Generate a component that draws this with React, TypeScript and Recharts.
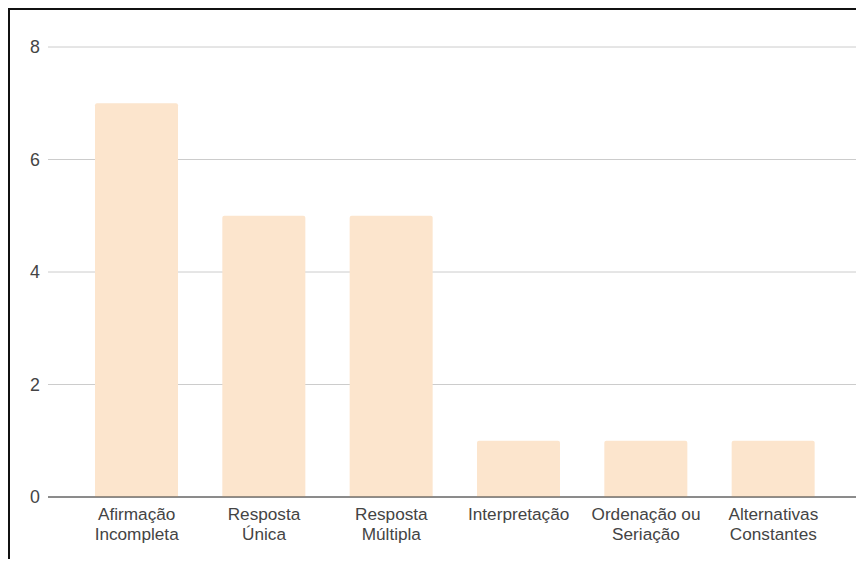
import { Bar, BarChart, CartesianGrid, XAxis, YAxis } from "recharts";

const categorias = [
  "Afirmação\nIncompleta",
  "Resposta\nÚnica",
  "Resposta\nMúltipla",
  "Interpretação",
  "Ordenação ou\nSeriação",
  "Alternativas\nConstantes",
];
const quantidades = [7, 5, 5, 1, 1, 1];
const ticksY = [0, 2, 4, 6, 8];

const data = categorias.map((c, i) => ({ tipo: c, qtd: quantidades[i] }));

const fonte = '"Liberation Sans", Arial, sans-serif';

function TickX({ x, y, payload }: any) {
  const linhas = String(payload.value).split("\n");
  return (
    <text x={x} y={y} textAnchor="middle" fill="#444" fontSize={17.2} fontFamily={fonte}>
      {linhas.map((l, i) => (
        <tspan key={i} x={x} dy={i === 0 ? 15 : 19.5}>
          {l}
        </tspan>
      ))}
    </text>
  );
}

export default function App() {
  return (
    <div style={{ borderTop: "2px solid #111", borderLeft: "2px solid #111", width: 854, height: 549 }}>
      <BarChart width={854} height={549} data={data} margin={{ top: 37, right: 4, left: 0, bottom: 7 }}>
        <CartesianGrid vertical={false} stroke="#ccc" />
        <XAxis
          dataKey="tipo"
          height={55}
          interval={0}
          padding={{ left: 25, right: 23 }}
          tickLine={false}
          axisLine={{ stroke: "#333" }}
          tick={<TickX />}
        />
        <YAxis
          width={38}
          domain={[0, 8]}
          ticks={ticksY}
          axisLine={false}
          tickLine={false}
          tick={{ fill: "#444", fontSize: 17.8, fontFamily: fonte }}
        />
        <Bar dataKey="qtd" fill="#fce5cd" barSize={83} radius={[2, 2, 0, 0]} isAnimationActive={false} />
      </BarChart>
    </div>
  );
}
